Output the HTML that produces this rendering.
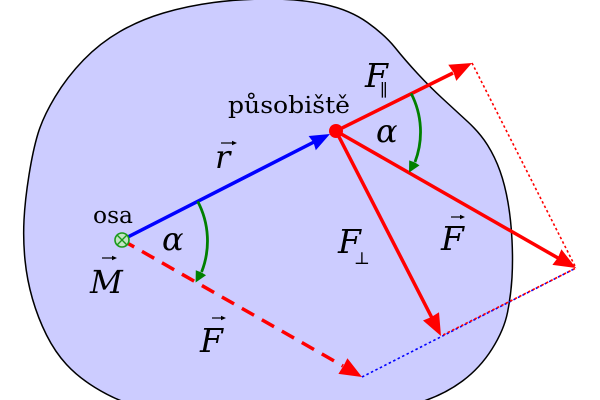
<!DOCTYPE html>
<html>
<head>
<meta charset="utf-8">
<style>
html,body{margin:0;padding:0;background:#fff;}
svg{display:block;}
.t{font-family:"DejaVu Serif","Liberation Serif",serif;fill:#000;}
.m{font-family:"DejaVu Serif","Liberation Serif",serif;font-style:italic;fill:#000;}
</style>
</head>
<body>
<svg width="600" height="400" viewBox="0 0 600 400" xmlns="http://www.w3.org/2000/svg">
  <!-- blob -->
  <path d="M25,260 Q23,240 24,220 Q25,200 29,175 Q33,150 38,133.5 Q43,117 55,97 Q67,77 83.5,60 Q100,43 120,31.5 Q140,20 163.5,13 Q187,6 213.5,2.5 Q240,-1 270,-1 Q300,-1 325,4.5 Q350,10 367.5,22.5 Q385,35 395,47.5 Q405,60 417.5,73.5 Q430,87 442.5,98.5 Q455,110 467.5,121.5 Q480,133 487.5,145 Q495,157 500,171 Q505,185 508,202.5 Q511,220 512,240 Q513,260 512,277.5 Q511,295 507.5,312.5 Q504,330 492,349 Q480,368 462.5,381 Q445,394 422.5,401.5 Q400,409 350,410 Q300,411 250,411 Q200,411 172.5,410 Q145,409 128.5,403.5 Q112,398 95,387.5 Q78,377 66.5,364.5 Q55,352 46.5,335 Q38,318 32.5,299 Q27,280 25,260 Z" fill="#ccccff" stroke="#000" stroke-width="1.5"/>

  <!-- dotted construction lines -->
  <line x1="472" y1="63" x2="576" y2="268" stroke="#ff0000" stroke-width="1.6" stroke-dasharray="2.5,2.5"/>
  <line x1="362" y1="377" x2="576" y2="268" stroke="#0000ff" stroke-width="1.6" stroke-dasharray="2.5,2.5"/>
  <line x1="441" y1="336" x2="576" y2="268" stroke="#ff0000" stroke-width="1.6" stroke-dasharray="2.5,2.5" stroke-dashoffset="2.5"/>

  <!-- dashed F from osa -->
  <line x1="122" y1="240" x2="343" y2="366" stroke="#ff0000" stroke-width="3.5" stroke-dasharray="14,9"/>
  <polygon points="362,377 338.4,373.9 344,365 347.4,358.3" fill="#ff0000"/>

  <!-- blue r vector -->
  <line x1="122" y1="240" x2="314" y2="142" stroke="#0000ff" stroke-width="3.5"/>
  <polygon points="330,134 315.8,150.2 313.5,142.5 308.6,136" fill="#0000ff"/>

  <!-- red vectors from application point -->
  <line x1="336" y1="131" x2="453" y2="73" stroke="#ff0000" stroke-width="3.5"/>
  <polygon points="472,63 456.3,80.9 453.5,72.5 448.3,64.8" fill="#ff0000"/>
  <line x1="336" y1="131" x2="558" y2="258" stroke="#ff0000" stroke-width="3.5"/>
  <polygon points="576,268 552.4,264.9 558,257.5 561.4,249.3" fill="#ff0000"/>
  <line x1="336" y1="131" x2="432" y2="318" stroke="#ff0000" stroke-width="3.5"/>
  <polygon points="441,336 423,320.5 431.5,317 439,312.3" fill="#ff0000"/>

  <!-- red dot -->
  <circle cx="336" cy="131" r="7" fill="#ff0000"/>

  <!-- green arcs -->
  <path d="M197.7,201.4 A85,85 0 0 1 201.6,272" fill="none" stroke="#008000" stroke-width="2.8"/>
  <polygon points="195.6,282.5 195.8,270.3 201.6,272.5 206,275.3" fill="#008000"/>
  <path d="M411.1,93.4 A84,84 0 0 1 415,162" fill="none" stroke="#008000" stroke-width="2.8"/>
  <polygon points="409,172.6 409.2,160.4 415,162.5 419.5,165.4" fill="#008000"/>

  <!-- osa symbol -->
  <circle cx="122" cy="240" r="7" fill="#c4e4c4" stroke="#1a9a1a" stroke-width="1.6"/>
  <line x1="117.3" y1="235.3" x2="126.7" y2="244.7" stroke="#1a9a1a" stroke-width="1.4"/>
  <line x1="126.7" y1="235.3" x2="117.3" y2="244.7" stroke="#1a9a1a" stroke-width="1.4"/>

  <!-- plain labels -->
  <text class="t" x="93" y="223" font-size="23" textLength="40" lengthAdjust="spacingAndGlyphs">osa</text>
  <text class="t" x="228" y="113" font-size="23" textLength="122" lengthAdjust="spacingAndGlyphs">působiště</text>

  <!-- math labels -->
  <text class="m" x="162" y="250" font-size="32">α</text>
  <text class="m" x="376" y="142" font-size="32">α</text>

  <text class="m" x="215" y="168" font-size="32">r</text>
  <g stroke="#000" stroke-width="1.2" fill="#000">
    <line x1="221" y1="143" x2="233" y2="143"/>
    <polygon points="237,143 232,140.8 232,145.2" stroke="none"/>
  </g>

  <text class="m" x="90" y="293" font-size="32">M</text>
  <g stroke="#000" stroke-width="1.2" fill="#000">
    <line x1="102" y1="258" x2="113" y2="258"/>
    <polygon points="117,258 112,255.8 112,260.2" stroke="none"/>
  </g>

  <text class="m" x="200" y="352" font-size="33">F</text>
  <g stroke="#000" stroke-width="1.2" fill="#000">
    <line x1="212" y1="318" x2="222" y2="318"/>
    <polygon points="226,318 221,315.8 221,320.2" stroke="none"/>
  </g>

  <text class="m" x="441" y="250" font-size="33">F</text>
  <g stroke="#000" stroke-width="1.2" fill="#000">
    <line x1="451" y1="217" x2="461" y2="217"/>
    <polygon points="465,217 460,214.8 460,219.2" stroke="none"/>
  </g>

  <text class="m" x="338" y="253" font-size="33">F</text>
  <text class="t" x="354" y="264" font-size="17">⊥</text>

  <text class="m" x="365" y="87" font-size="33">F</text>
  <text class="t" x="380" y="96" font-size="17">∥</text>
</svg>
</body>
</html>
